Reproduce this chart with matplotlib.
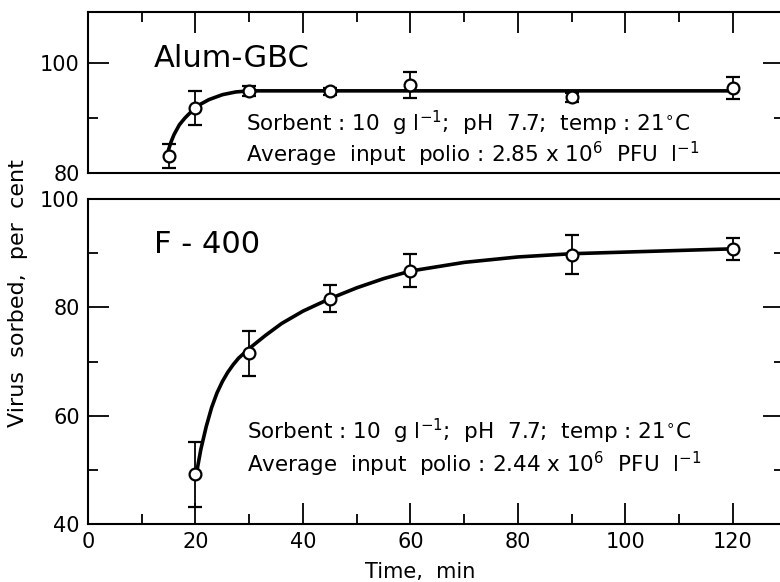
import matplotlib

matplotlib.use("Agg")
import matplotlib.pyplot as plt
from matplotlib.ticker import MultipleLocator

plt.rcParams["font.family"] = ["DejaVu Sans"]
plt.rcParams["mathtext.fontset"] = "dejavusans"

# --- data ---
alum_t = [15, 20, 30, 45, 60, 90, 120]
alum_y = [83.1, 91.9, 94.9, 94.9, 96.1, 93.8, 95.6]
alum_err = [2.2, 3.1, 0.9, 0.7, 2.4, 0.8, 2.0]
alum_curve_t = [15, 15.5, 16, 17, 18, 19, 20, 21, 22.5, 25, 27.5, 30, 45, 60, 90, 120]
alum_curve_y = [84.3, 85.8, 87.0, 88.8, 90.0, 91.0, 91.8, 92.6, 93.4, 94.3, 94.8,
                95.0, 95.0, 95.0, 95.0, 95.0]

f400_t = [20, 30, 45, 60, 90, 120]
f400_y = [49.2, 71.5, 81.6, 86.8, 89.7, 90.8]
f400_err = [6.0, 4.2, 2.5, 3.0, 3.6, 2.0]
f400_curve_t = [20.3, 21, 22, 23, 24, 25, 26, 27, 28, 30, 33, 36, 40, 45, 50, 55,
                60, 70, 80, 90, 100, 110, 120]
f400_curve_y = [50.0, 53.8, 58.0, 61.5, 64.2, 66.3, 68.0, 69.4, 70.6, 72.4, 74.8,
                77.0, 79.3, 81.6, 83.6, 85.3, 86.7, 88.3, 89.3, 89.9, 90.2, 90.5, 90.8]

W, H = 780, 582
fig = plt.figure(figsize=(W / 100, H / 100), dpi=100)


def box(l, t, r, b):
    return [l / W, 1 - b / H, (r - l) / W, (b - t) / H]


ax1 = fig.add_axes(box(88, 12, 784, 173))
ax2 = fig.add_axes(box(88, 199, 784, 524))

for ax in (ax1, ax2):
    for s in ax.spines.values():
        s.set_linewidth(1.5)
    ax.set_xlim(0, 129.5)
    ax.tick_params(which="both", direction="in", width=1.3, labelsize=15, pad=6)
    ax.tick_params(which="major", length=15)
    ax.tick_params(which="minor", length=7)
    ax.xaxis.set_major_locator(MultipleLocator(20))
    ax.xaxis.set_minor_locator(MultipleLocator(10))
    ax.yaxis.set_major_locator(MultipleLocator(20))
    ax.yaxis.set_minor_locator(MultipleLocator(10))

ax1.set_ylim(80, 109.4)
ax1.tick_params(axis="x", which="both", top=True, bottom=False, labelbottom=False)
ax1.tick_params(axis="y", which="both", left=True, right=True)

ax2.set_ylim(40, 100)
ax2.tick_params(axis="x", which="both", top=False, bottom=True)
ax2.tick_params(axis="y", which="both", left=True, right=True)

line_kw = dict(color="black", lw=2.6, zorder=2)
err_kw = dict(fmt="o", ms=8.5, mfc="white", mec="black", mew=1.6, ecolor="black",
              elinewidth=1.3, capsize=5, capthick=1.6, zorder=3)

ax1.plot(alum_curve_t, alum_curve_y, **line_kw)
ax1.errorbar(alum_t, alum_y, yerr=alum_err, **err_kw)
ax2.plot(f400_curve_t, f400_curve_y, **line_kw)
ax2.errorbar(f400_t, f400_y, yerr=f400_err, **err_kw)

sorbent = r"Sorbent : 10  g l$^{-1}$;  pH  7.7;  temp : 21$^{\circ}$C"

ax1.text(12.3, 99.4, "Alum-GBC", fontsize=22)
ax1.text(29.4, 87.7, sorbent, fontsize=15.5)
ax1.text(29.4, 82.0, r"Average  input  polio : 2.85 x 10$^{6}$  PFU  l$^{-1}$", fontsize=15.5)

ax2.text(12.3, 90.0, "F - 400", fontsize=22)
ax2.text(29.6, 55.7, sorbent, fontsize=15.5)
ax2.text(29.6, 49.6, r"Average  input  polio : 2.44 x 10$^{6}$  PFU  l$^{-1}$", fontsize=15.5)

fig.text(18 / W, 1 - 293 / H, "Virus  sorbed,  per  cent", rotation=90,
         ha="center", va="center", fontsize=16)
fig.text(420 / W, 1 - 572 / H, "Time,  min", ha="center", va="center", fontsize=15)

fig.savefig("out.png", dpi=100)
